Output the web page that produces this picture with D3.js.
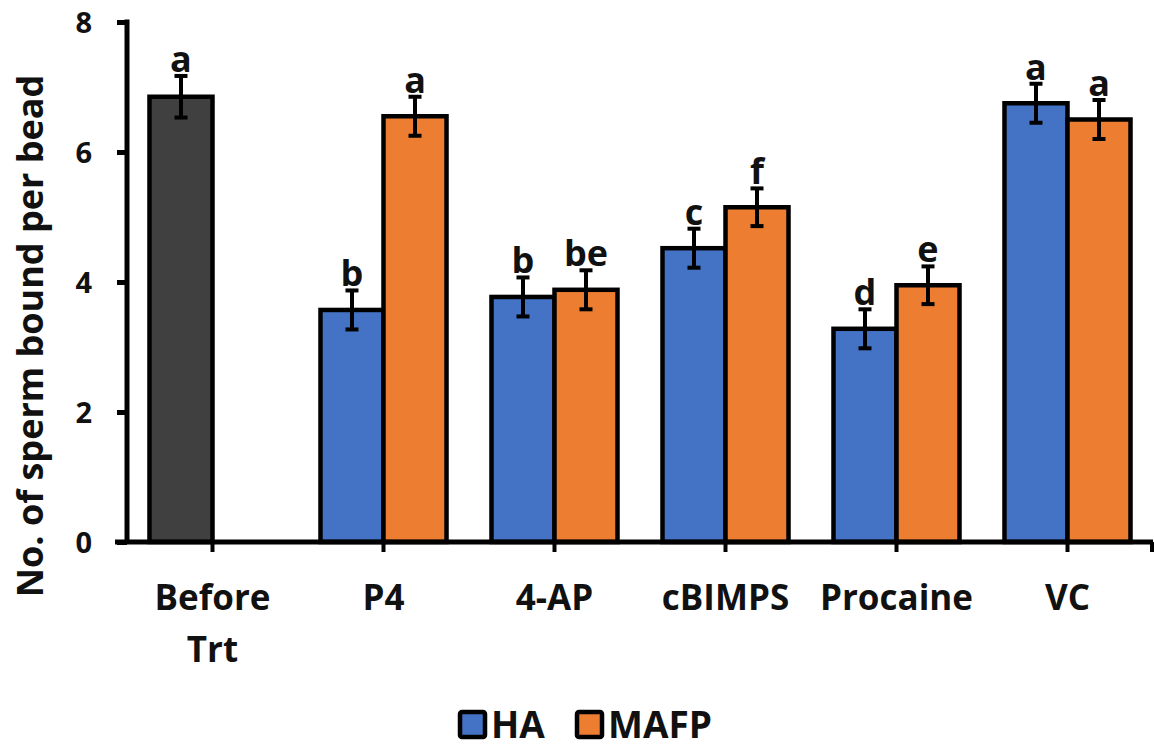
<!DOCTYPE html>
<html>
<head>
<meta charset="utf-8">
<script src="https://cdn.jsdelivr.net/npm/d3@7"></script>
<style>
  html, body { margin: 0; padding: 0; background: #fff; }
  svg text { font-family: "Open Sans", "Noto Sans", sans-serif; font-weight: 700; fill: #111; }
</style>
</head>
<body>
<svg id="chart" width="1154" height="747"></svg>
<script>
// Sperm bound per bead, by treatment and capacitation medium
const categories = ["Before Trt", "P4", "4-AP", "cBIMPS", "Procaine", "VC"];
const seriesNames = ["HA", "MAFP"];
const haValues   = [6.85, 3.57, 3.77, 4.52, 3.28, 6.75];
const mafpValues = [null, 6.55, 3.88, 5.15, 3.95, 6.50];
const haErrors   = [0.32, 0.30, 0.30, 0.30, 0.30, 0.30];
const mafpErrors = [null, 0.30, 0.30, 0.29, 0.29, 0.30];
const haLetters   = ["a", "b", "b", "c", "d", "a"];
const mafpLetters = [null, "a", "be", "f", "e", "a"];
const yTicks = [0, 2, 4, 6, 8];

const colors = { HA: "#4472C4", MAFP: "#ED7D31", baseline: "#404040" };

const svg = d3.select("#chart");
const plotLeft = 127, plotRight = 1153, plotTop = 22, plotBottom = 542;

const y = d3.scaleLinear().domain([0, 8]).range([plotBottom, plotTop]);
const x = d3.scaleBand().domain(categories).range([plotLeft, plotRight])
  .paddingInner(0.263).paddingOuter(0.1315);
const xs = d3.scaleBand().domain(seriesNames).range([0, x.bandwidth()]);

// Flatten into bar records
const bars = [];
categories.forEach((c, i) => {
  bars.push({ cat: c, series: "HA", value: haValues[i], err: haErrors[i], letter: haLetters[i],
              fill: i === 0 ? colors.baseline : colors.HA });
  if (mafpValues[i] != null) {
    bars.push({ cat: c, series: "MAFP", value: mafpValues[i], err: mafpErrors[i], letter: mafpLetters[i],
                fill: colors.MAFP });
  }
});

const g = svg.append("g");

// Bars
g.selectAll("rect.bar").data(bars).join("rect")
  .attr("class", "bar")
  .attr("x", d => x(d.cat) + xs(d.series))
  .attr("y", d => y(d.value))
  .attr("width", xs.bandwidth())
  .attr("height", d => y(0) - y(d.value))
  .attr("fill", d => d.fill)
  .attr("stroke", "#000")
  .attr("stroke-width", 4.5);

// Error bars
const eb = g.selectAll("g.err").data(bars).join("g").attr("class", "err")
  .attr("transform", d => `translate(${x(d.cat) + xs(d.series) + xs.bandwidth() / 2},0)`);
eb.append("line")
  .attr("y1", d => y(d.value + d.err)).attr("y2", d => y(d.value - d.err))
  .attr("stroke", "#000").attr("stroke-width", 4);
eb.selectAll("line.cap").data(d => [d.value + d.err, d.value - d.err]).join("line")
  .attr("class", "cap")
  .attr("x1", -6.5).attr("x2", 6.5)
  .attr("y1", v => y(v)).attr("y2", v => y(v))
  .attr("stroke", "#000").attr("stroke-width", 4);

// Significance letters
g.selectAll("text.letter").data(bars).join("text")
  .attr("class", "letter")
  .attr("x", d => x(d.cat) + xs(d.series) + xs.bandwidth() / 2)
  .attr("y", d => y(d.value + d.err) - 4)
  .attr("text-anchor", "middle")
  .style("font-size", "36px")
  .text(d => d.letter);

// Y axis
const yAxis = svg.append("g").attr("transform", `translate(${plotLeft},0)`)
  .call(d3.axisLeft(y).tickValues(yTicks).tickSize(10).tickPadding(8).tickFormat(d3.format("d")));
yAxis.select(".domain").attr("stroke", "#000").attr("stroke-width", 5)
  .attr("d", `M0,${plotTop - 2.5}V${plotBottom}`);
yAxis.selectAll(".tick line").attr("stroke", "#000").attr("stroke-width", 5);
yAxis.selectAll(".tick text").style("font-size", "29px").attr("dy", "0.36em").attr("x", -35);

// X axis
const xAxis = svg.append("g").attr("transform", `translate(0,${plotBottom})`);
xAxis.append("line").attr("x1", 115).attr("x2", plotRight).attr("y1", 0).attr("y2", 0)
  .attr("stroke", "#000").attr("stroke-width", 5);
xAxis.selectAll("line.xt").data(categories.map(c => x(c) + x.bandwidth() / 2).concat([plotRight - 1]))
  .join("line").attr("class", "xt")
  .attr("x1", d => d).attr("x2", d => d).attr("y1", 0).attr("y2", 10)
  .attr("stroke", "#000").attr("stroke-width", 4);
xAxis.selectAll("text.xl").data(categories).join("text")
  .attr("class", "xl")
  .attr("text-anchor", "middle")
  .attr("x", c => x(c) + x.bandwidth() / 2)
  .style("font-size", "35px")
  .each(function (c) {
    const words = c === "Before Trt" ? ["Before", "Trt"] : [c];
    d3.select(this).selectAll("tspan").data(words).join("tspan")
      .attr("x", x(c) + x.bandwidth() / 2)
      .attr("y", (w, i) => 68 + i * 52)
      .text(w => w);
  });

// Y axis title
svg.append("text")
  .attr("transform", "translate(43,336) rotate(-90)")
  .attr("text-anchor", "middle")
  .style("font-size", "36px")
  .text("No. of sperm bound per bead");

// Legend
const legendItems = [{ name: "HA", x: 460 }, { name: "MAFP", x: 577 }];
const lg = svg.append("g").selectAll("g").data(legendItems).join("g")
  .attr("transform", d => `translate(${d.x},712)`);
lg.append("rect").attr("width", 25).attr("height", 25)
  .attr("fill", d => colors[d.name]).attr("stroke", "#000").attr("stroke-width", 4.5).attr("rx", 2);
lg.append("text").attr("x", 31).attr("y", 25.5).style("font-size", "37px").text(d => d.name);
</script>
</body>
</html>
